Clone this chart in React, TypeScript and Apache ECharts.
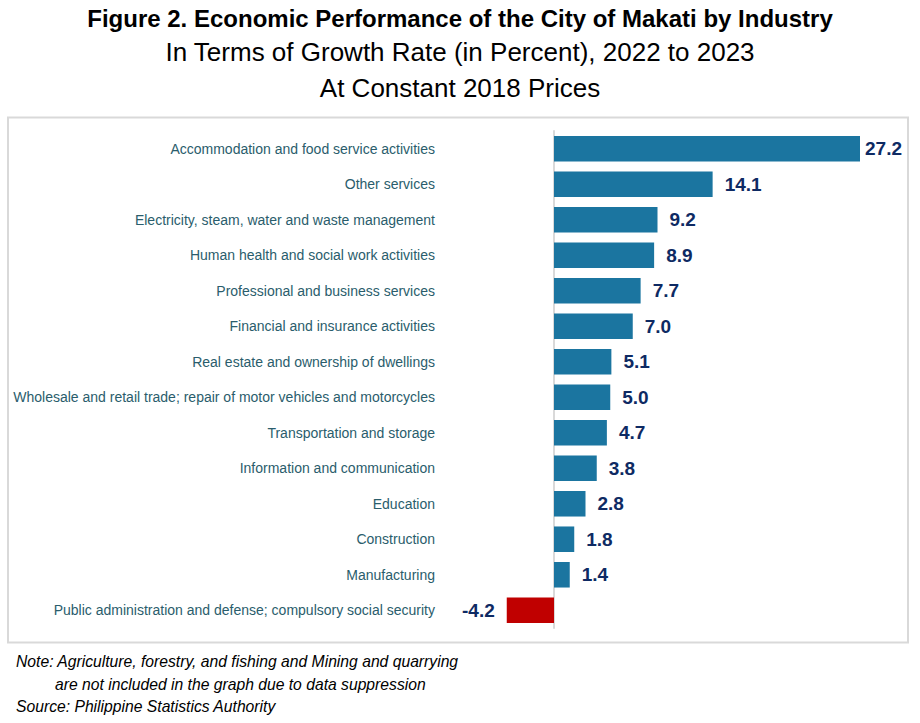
import React, { useEffect, useRef } from "react";
import * as echarts from "echarts";

const categories = [
  "Accommodation and food service activities",
  "Other services",
  "Electricity, steam, water and waste management",
  "Human health and social work activities",
  "Professional and business services",
  "Financial and insurance activities",
  "Real estate and ownership of dwellings",
  "Wholesale and retail trade; repair of motor vehicles and motorcycles",
  "Transportation and storage",
  "Information and communication",
  "Education",
  "Construction",
  "Manufacturing",
  "Public administration and defense; compulsory social security",
];

const growthRates = [27.2, 14.1, 9.2, 8.9, 7.7, 7.0, 5.1, 5.0, 4.7, 3.8, 2.8, 1.8, 1.4, -4.2];

const titleLines = [
  "Figure 2. Economic Performance of the City of Makati by Industry",
  "In Terms of Growth Rate (in Percent), 2022 to 2023",
  "At Constant 2018 Prices",
];

const noteLines = [
  "Note: Agriculture, forestry, and fishing and Mining and quarrying",
  "are not included in the graph due to data suppression",
  "Source: Philippine Statistics Authority",
];

const BLUE = "#1b75a0";
const RED = "#c00000";
const FONT = "Arial, 'Liberation Sans', sans-serif";

export default function App() {
  const ref = useRef<HTMLDivElement>(null);

  useEffect(() => {
    if (!ref.current) return;
    const chart = echarts.init(ref.current, null, { renderer: "svg" });

    const data = growthRates.map((v, i) => ({
      value: v,
      itemStyle: { color: v < 0 ? RED : BLUE },
      label: {
        position: v < 0 ? "left" : "right",
        distance: i === 0 ? 5 : 12,
      },
    }));

    chart.setOption({
      animation: false,
      backgroundColor: "#ffffff",
      textStyle: { fontFamily: FONT },
      grid: {
        left: 497.75,
        right: 28.5,
        top: 131,
        bottom: 95,
        containLabel: false,
        outerBoundsMode: "none",
      },
      xAxis: {
        type: "value",
        min: -5,
        max: 30,
        show: false,
        splitLine: { show: false },
      },
      yAxis: {
        type: "category",
        data: categories,
        inverse: true,
        axisLine: { show: true, onZero: true, lineStyle: { color: "#d9d9d9", width: 2 } },
        axisTick: { show: false },
        axisLabel: {
          margin: 62.75,
          fontSize: 14,
          color: "#2a5d6c",
          fontFamily: FONT,
        },
      },
      series: [
        {
          type: "bar",
          data,
          barCategoryGap: "28%",
          label: {
            show: true,
            fontSize: 19,
            fontWeight: "bold",
            color: "#0e2a63",
            fontFamily: FONT,
            formatter: (p: any) => Number(p.value).toFixed(1),
          },
        },
      ],
      graphic: [
        {
          type: "rect",
          z: -10,
          shape: { x: 8, y: 117.5, width: 900, height: 525 },
          style: { fill: "none", stroke: "#d9d9d9", lineWidth: 2 },
        },
        {
          type: "text",
          x: 460,
          y: 18.7,
          style: {
            text: titleLines[0],
            font: `bold 24px ${FONT}`,
            fill: "#000000",
            textAlign: "center",
            textVerticalAlign: "middle",
          },
        },
        {
          type: "text",
          x: 460,
          y: 52,
          style: {
            text: titleLines[1],
            font: `26px ${FONT}`,
            fill: "#000000",
            textAlign: "center",
            textVerticalAlign: "middle",
          },
        },
        {
          type: "text",
          x: 460,
          y: 87.5,
          style: {
            text: titleLines[2],
            font: `26px ${FONT}`,
            fill: "#000000",
            textAlign: "center",
            textVerticalAlign: "middle",
          },
        },
        {
          type: "text",
          x: 16,
          y: 661.7,
          style: {
            text: noteLines[0],
            font: `italic 15.7px ${FONT}`,
            fill: "#000000",
            textAlign: "left",
            textVerticalAlign: "middle",
          },
        },
        {
          type: "text",
          x: 55,
          y: 684,
          style: {
            text: noteLines[1],
            font: `italic 15.7px ${FONT}`,
            fill: "#000000",
            textAlign: "left",
            textVerticalAlign: "middle",
          },
        },
        {
          type: "text",
          x: 16,
          y: 706.7,
          style: {
            text: noteLines[2],
            font: `italic 15.7px ${FONT}`,
            fill: "#000000",
            textAlign: "left",
            textVerticalAlign: "middle",
          },
        },
      ],
    });

    return () => chart.dispose();
  }, []);

  return (
    <div
      ref={ref}
      style={{ position: "absolute", left: 0, top: 0, width: 920, height: 723 }}
    />
  );
}
